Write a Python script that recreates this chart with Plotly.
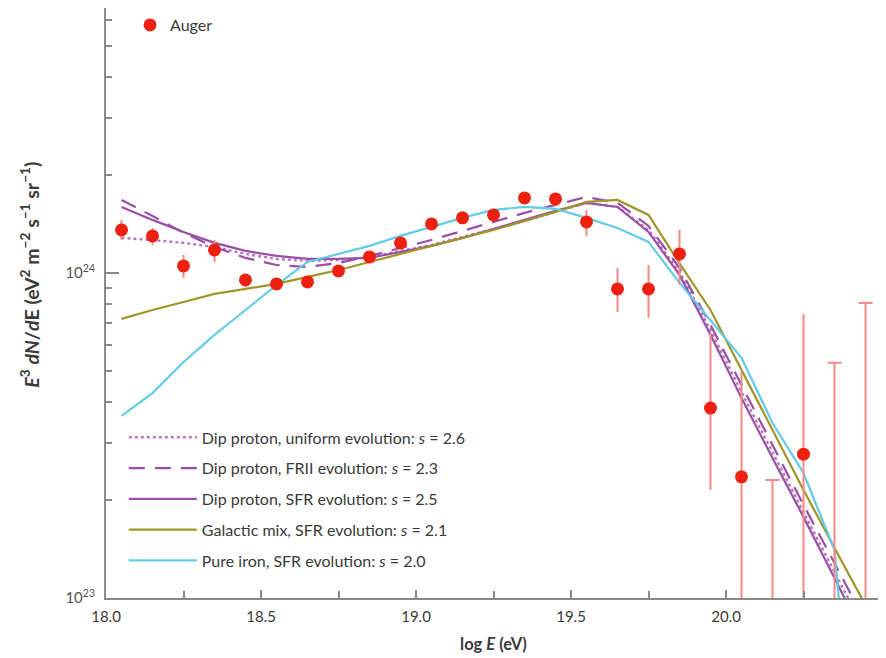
import plotly.graph_objects as go

# ---------------- data (values in units of 1e24 eV^2 m^-2 s^-1 sr^-1) -------------
SCALE = 1e24
logE_model = [18.05, 18.15, 18.25, 18.35, 18.45, 18.55, 18.65, 18.75, 18.85, 18.95,
              19.05, 19.15, 19.25, 19.35, 19.45, 19.55, 19.65, 19.75, 19.85, 19.95,
              20.05, 20.15, 20.25, 20.35, 20.45]

dip_uniform = [1.281, 1.263, 1.237, 1.202, 1.144, 1.104, 1.089, 1.096, 1.120, 1.169,
               1.219, 1.291, 1.366, 1.445, 1.541, 1.642, 1.596, 1.356, 1.007, 0.668,
               0.430, 0.2813, 0.1839, 0.1202, 0.0786]
dip_frii = [1.677, 1.497, 1.328, 1.202, 1.112, 1.058, 1.043, 1.073, 1.128, 1.194,
            1.263, 1.347, 1.435, 1.530, 1.619, 1.713, 1.642, 1.395, 1.036, 0.692,
            0.452, 0.2957, 0.1933, 0.1281, 0.0844]
dip_sfr = [1.596, 1.456, 1.337, 1.237, 1.169, 1.128, 1.104, 1.104, 1.112, 1.160,
           1.211, 1.281, 1.366, 1.456, 1.552, 1.642, 1.596, 1.337, 0.986, 0.645,
           0.412, 0.2696, 0.1775, 0.1152, 0.0743]
galactic_mix = [0.722, 0.769, 0.814, 0.862, 0.893, 0.925, 0.972, 1.021, 1.081, 1.144,
                1.211, 1.281, 1.356, 1.445, 1.541, 1.654, 1.677, 1.508, 1.070, 0.769,
                0.503, 0.3288, 0.2150, 0.1425, 0.0951]
pure_iron = [0.363, 0.427, 0.532, 0.645, 0.769, 0.918, 1.081, 1.144, 1.211, 1.300,
             1.385, 1.477, 1.563, 1.596, 1.574, 1.477, 1.375, 1.246, 0.932, 0.717,
             0.548, 0.3455, 0.2424, 0.1405, 0.01177]

auger_logE = [18.05, 18.15, 18.25, 18.35, 18.45, 18.55, 18.65, 18.75, 18.85, 18.95,
              19.05, 19.15, 19.25, 19.35, 19.45, 19.55, 19.65, 19.75, 19.85, 19.95,
              20.05, 20.25]
auger_flux = [1.356, 1.300, 1.051, 1.177, 0.952, 0.925, 0.938, 1.014, 1.120, 1.237,
              1.415, 1.477, 1.508, 1.701, 1.689, 1.435, 0.893, 0.893, 1.144, 0.384,
              0.236, 0.277]
auger_hi = [1.456, 1.375, 1.136, 1.263, 0.993, 0.965, 0.979, 1.058, 1.169, 1.291,
            1.477, 1.541, 1.574, 1.775, 1.763, 1.563, 1.036, 1.058, 1.356, 0.654,
            0.496, 0.748]
auger_lo = [1.263, 1.219, 0.965, 1.081, 0.906, 0.887, 0.899, 0.972, 1.073, 1.185,
            1.356, 1.415, 1.445, 1.631, 1.608, 1.300, 0.759, 0.727, 0.918, 0.215,
            0.05, 0.05]

limit_logE = [20.15, 20.35, 20.45]
limit_flux = [0.2307, 0.529, 0.808]
limit_lo = [0.05, 0.05, 0.05]

x_ticks = [18.0, 18.5, 19.0, 19.5, 20.0, 20.5]
x_ticktext = ["18.0", "18.5", "19.0", "19.5", "20.0", "20.5"]
x_minor = [18.25, 18.75, 19.25, 19.75, 20.25]
y_ticks = [1e23, 1e24]
y_ticktext = ["10<sup>23</sup>", "10<sup>24</sup>"]
y_minor = [2e23, 3e23, 4e23, 5e23, 6e23, 7e23, 8e23, 9e23,
           2e24, 3e24, 4e24, 5e24, 6e24]

# ---------------- styling --------------------------------------------------------
PURPLE = "#9b4fa6"
PURPLE_LIGHT = "#b875c0"
OLIVE = "#a09528"
CYAN = "#62cbe6"
RED = "#ee2010"
ERR = "#f38a84"
AXIS = "#8a8a8a"
TXT = "#3a3a3a"
FONT = "Lato"

def sc(v):
    return [a * SCALE for a in v]

fig = go.Figure()

models = [
    ("Dip proton, uniform evolution: <i>s</i> = 2.6", dip_uniform, PURPLE_LIGHT, "dot"),
    ("Dip proton, FRII evolution: <i>s</i> = 2.3", dip_frii, PURPLE, "16px,10px"),
    ("Dip proton, SFR evolution: <i>s</i> = 2.5", dip_sfr, PURPLE, "solid"),
    ("Galactic mix, SFR evolution: <i>s</i> = 2.1", galactic_mix, OLIVE, "solid"),
    ("Pure iron, SFR evolution: <i>s</i> = 2.0", pure_iron, CYAN, "solid"),
]

for i, (name, vals, col, dash) in enumerate(models):
    fig.add_trace(go.Scatter(
        x=logE_model, y=sc(vals), mode="lines", name=name,
        line=dict(color=col, width=2.2 if dash != "dot" else 2.4, dash=dash),
        legendgroup=f"g{i}", legend="legend",
    ))

fig.add_trace(go.Scatter(
    x=limit_logE, y=sc(limit_flux), mode="markers", showlegend=False,
    marker=dict(color="rgba(0,0,0,0)", size=1),
    error_y=dict(type="data", symmetric=False,
                 array=[0] * len(limit_flux),
                 arrayminus=[(f - l) * SCALE for f, l in zip(limit_flux, limit_lo)],
                 color=ERR, thickness=2, width=7),
))
fig.add_trace(go.Scatter(
    x=auger_logE, y=sc(auger_flux), mode="markers", name="Auger",
    marker=dict(color=RED, size=13, line=dict(width=0)),
    error_y=dict(type="data", symmetric=False,
                 array=[(h - f) * SCALE for h, f in zip(auger_hi, auger_flux)],
                 arrayminus=[(f - l) * SCALE for f, l in zip(auger_flux, auger_lo)],
                 color=ERR, thickness=2, width=0),
    legend="legend2", showlegend=True,
))

# the page body adds an 8 px offset, so the figure is 878x650 with matching margins
fig.update_layout(
    width=878, height=650,
    margin=dict(l=98, r=5, t=0, b=60),
    paper_bgcolor="white", plot_bgcolor="white",
    font=dict(family=FONT, size=15, color=TXT),
    showlegend=True,
    legend=dict(x=0.023, y=0.035, xanchor="left", yanchor="bottom",
                bgcolor="rgba(0,0,0,0)", font=dict(size=16, color=TXT, family=FONT),
                itemwidth=68, tracegroupgap=7, traceorder="grouped"),
    legend2=dict(x=0.031, y=1.0, xanchor="left", yanchor="top",
                 bgcolor="rgba(0,0,0,0)", font=dict(size=16, color=TXT, family=FONT),
                 itemwidth=30),
    xaxis=dict(range=[18.0, 20.5], showline=True, linecolor=AXIS, linewidth=2,
               ticks="inside", ticklen=8, tickwidth=1.5, tickcolor=AXIS,
               tickvals=x_ticks, ticktext=x_ticktext, showgrid=False, zeroline=False,
               tickfont=dict(size=15, color=TXT), ticklabelstandoff=4,
               minor=dict(tickvals=x_minor, ticks="inside", ticklen=7, tickcolor=AXIS, tickwidth=1.5),
               title=dict(text="<b>log <i>E</i> (eV)</b>", font=dict(size=16.5, color=TXT), standoff=14)),
    yaxis=dict(type="log", range=[23, 24.815], showline=True, linecolor=AXIS, linewidth=2,
               ticks="inside", ticklen=13, tickwidth=1.5, tickcolor=AXIS,
               tickvals=y_ticks, ticktext=y_ticktext, showgrid=False, zeroline=False,
               tickfont=dict(size=15, color="#555555"), ticklabelstandoff=6,
               minor=dict(tickvals=y_minor, ticks="inside", ticklen=6, tickcolor=AXIS, tickwidth=1.5)),
    annotations=[dict(
        text="<b><i>E</i><sup>3</sup> <i>dN</i>/<i>d</i>E (eV<sup>2</sup> m<sup>−2</sup> s<sup>−1</sup> sr<sup>−1</sup>)</b>",
        xref="paper", yref="paper", x=-0.098, y=0.548, textangle=-90,
        showarrow=False, font=dict(size=19.5, color=TXT, family=FONT),
        xanchor="center", yanchor="middle")],
)

fig.write_html("out.html")
